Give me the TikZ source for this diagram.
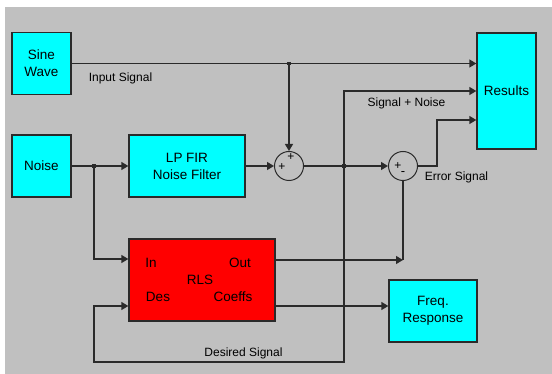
\documentclass[tikz,border=0pt]{standalone}
\usepackage{fontspec}
\setmainfont{Liberation Sans}
\usetikzlibrary{arrows.meta}
\definecolor{bggray}{HTML}{C0C0C0}
\definecolor{boxcyan}{HTML}{00FFFF}
\definecolor{boxred}{HTML}{FF0000}
\definecolor{linecol}{HTML}{2A2A2A}
\begin{document}
\begin{tikzpicture}[x=1pt,y=-1pt,
  blk/.style={draw=linecol,line width=1.4pt,fill=boxcyan,inner sep=0pt,align=center,
    font=\fontsize{13.5}{17}\selectfont},
  sumc/.style={draw=linecol,line width=1pt,circle,minimum size=29pt,inner sep=0pt},
  wire/.style={draw=linecol,line width=1.4pt},
  arr/.style={wire,-{Triangle[length=7pt,width=8pt]}},
  lbl/.style={font=\fontsize{12}{13}\selectfont,inner sep=0pt},
  port/.style={font=\fontsize{13.5}{15}\selectfont,inner sep=0pt},
  dot/.style={fill=linecol,minimum size=3.5pt,inner sep=0pt,draw=none,rectangle}]
\useasboundingbox (0,0) rectangle (552,374);
\fill[bggray] (5,7) rectangle (552,374);
% blocks
\node[blk,minimum width=59pt,minimum height=62pt] (sine) at (41.5,63.5) {Sine\\Wave};
\node[blk,minimum width=59pt,minimum height=62pt] (noise) at (41.5,166) {Noise};
\node[blk,minimum width=116pt,minimum height=62pt] (fir) at (187,166) {LP FIR\\Noise Filter};
\node[blk,minimum width=59pt,minimum height=116pt] (res) at (506.5,91) {Results};
\node[blk,fill=boxred,minimum width=146pt,minimum height=82pt] (rls) at (202,280) {};
\node[blk,minimum width=88pt,minimum height=62pt] (freq) at (433,311) {Freq.\\Response};
% RLS port labels
\node[port] (pin) at (151,263) {In};
\node[port] (pout) at (240,263) {Out};
\node[port] (prls) at (200,280) {RLS};
\node[port] (pdes) at (158,297) {Des};
\node[port] (pcoef) at (233,297) {Coeffs};
% sums
\node[sumc] (s1) at (289,166) {};
\node[sumc] (s2) at (403,166) {};
\node[font=\fontsize{12}{12}\selectfont,inner sep=0pt] (s1a) at (291,157) {+};
\node[font=\fontsize{12}{12}\selectfont,inner sep=0pt] (s1b) at (282,167) {+};
\node[font=\fontsize{12}{12}\selectfont,inner sep=0pt] (s2a) at (398,166) {+};
\node[font=\fontsize{13}{13}\selectfont,inner sep=0pt] (s2b) at (403,174) {-};
% coordinates
\coordinate (j1) at (289,63.5);
\coordinate (j2) at (344,166);
\coordinate (j3) at (94,166);
\coordinate (r1) at (res.west |- 0,63.5);
\coordinate (r2) at (res.west |- 0,91);
\coordinate (r3) at (res.west |- 0,120);
\coordinate (rin) at (rls.west |- 0,259);
\coordinate (rdes) at (rls.west |- 0,306);
\coordinate (rout) at (rls.east |- 0,260);
\coordinate (rcoef) at (rls.east |- 0,306);
\coordinate (fin) at (freq.west |- 0,306);
\coordinate (ecorner) at (403,260);
% wires
\draw[arr] (sine.east) -- (r1);
\draw[arr] (j1) -- (s1.north);
\draw[arr] (noise.east) -- (fir.west);
\draw[arr] (fir.east) -- (s1.west);
\draw[arr] (s1.east) -- (s2.west);
\draw[arr] (j2) |- (r2);
\draw[arr] (s2.east) -- (437,166) |- (r3);
\draw[arr] (j2) -- (344,362) -| (94,306) -- (rdes);
\draw[arr] (j3) |- (rin);
\draw[arr] (rout) -- (ecorner);
\draw[wire] (ecorner) -- (s2.south);
\draw[arr] (rcoef) -- (fin);
% junction dots
\node[dot] (d1) at (j1) {};
\node[dot] (d2) at (j2) {};
\node[dot] (d3) at (j3) {};
% labels
\node[lbl] (l1) at (120.5,78) {Input Signal};
\node[lbl] (l2) at (406.5,103) {Signal + Noise};
\node[lbl] (l3) at (456.5,177.5) {Error Signal};
\node[lbl] (l4) at (243.5,353) {Desired Signal};
\end{tikzpicture}
\end{document}
